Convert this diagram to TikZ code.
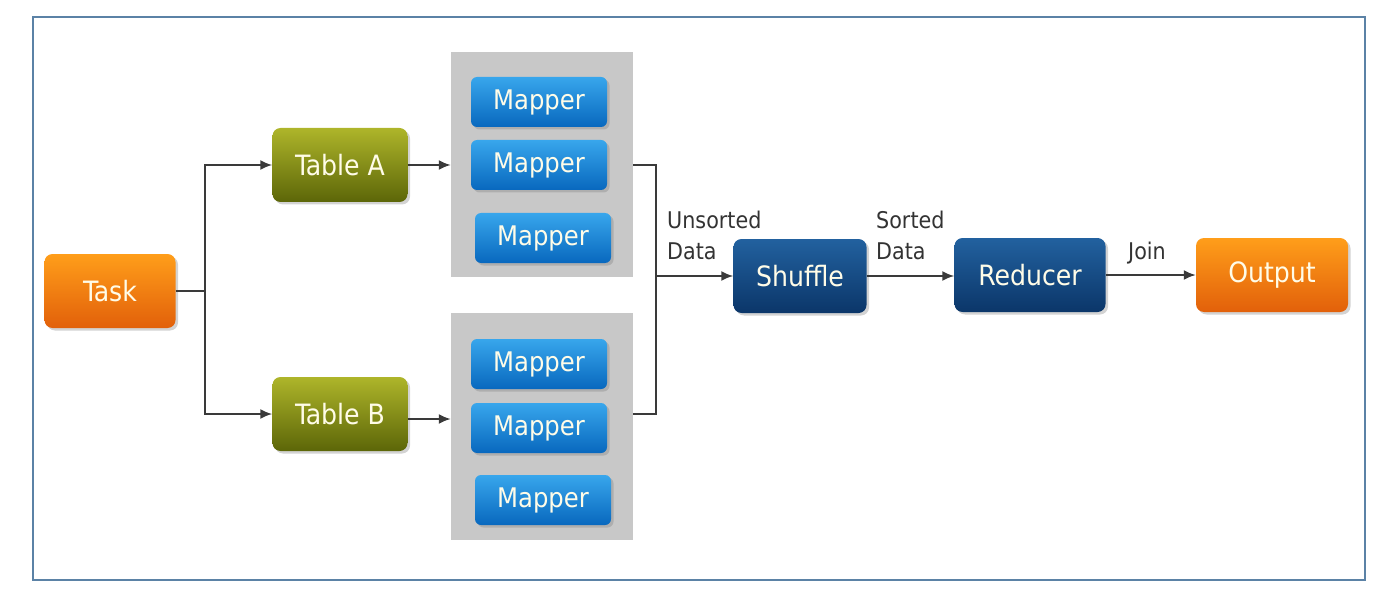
\documentclass[tikz,border=0pt]{standalone}
\usepackage{fontspec}
\setmainfont{DejaVu Sans Condensed}
\usetikzlibrary{positioning, shadows, arrows.meta}

\definecolor{frameblue}{HTML}{5B82A6}
\definecolor{linegray}{HTML}{3A3A3A}
\definecolor{labelgray}{HTML}{333333}
\definecolor{boxtext}{HTML}{FFFCE8}
\definecolor{panelgray}{HTML}{C8C8C8}
\definecolor{orangetop}{HTML}{FF9E1A}
\definecolor{orangebot}{HTML}{E2600A}
\definecolor{olivetop}{HTML}{AEB52A}
\definecolor{olivebot}{HTML}{5C6608}
\definecolor{bluetop}{HTML}{38A6EC}
\definecolor{bluebot}{HTML}{0868BE}
\definecolor{navytop}{HTML}{22619F}
\definecolor{navybot}{HTML}{0B3669}

\tikzset{
  box/.style={rectangle, rounded corners=8pt, text=boxtext,
    font=\fontsize{28}{32}\selectfont,
    drop shadow={shadow xshift=2.5pt, shadow yshift=-2.5pt, opacity=0.35}},
  taskbox/.style={box, top color=orangetop, bottom color=orangebot,
    minimum width=131pt, minimum height=74pt},
  tablebox/.style={box, top color=olivetop, bottom color=olivebot,
    minimum width=135pt, minimum height=74pt},
  mapperbox/.style={box, top color=bluetop, bottom color=bluebot,
    rounded corners=6pt, minimum width=136pt, minimum height=50pt,
    font=\fontsize{27}{30}\selectfont},
  stagebox/.style={box, top color=navytop, bottom color=navybot,
    minimum height=74pt},
  panel/.style={rectangle, fill=panelgray, minimum width=182pt},
  link/.style={draw=linegray, line width=2pt, -{Latex[length=12pt, width=10pt]}},
  plainlink/.style={draw=linegray, line width=2pt},
  lbl/.style={text=labelgray, font=\fontsize{23}{31}\selectfont, inner sep=0pt, align=left}
}

\begin{document}
\begin{tikzpicture}[x=1pt, y=-1pt]
\useasboundingbox (0,0) rectangle (1381,596);
\draw[frameblue, line width=1.8pt] (33,17) rectangle (1365,580);

% gray mapper panels
\node[panel, minimum height=225pt] (panelA) at (542,164.5) {};
\node[panel, minimum height=227pt] (panelB) at (542,426.5) {};

\node[taskbox] (task) at (110,291) {Task};
\node[tablebox] (tableA) at (340,165) {Table A};
\node[tablebox] (tableB) at (340,414) {Table B};

\node[mapperbox] (mapA1) at (539,102) {Mapper};
\node[mapperbox] (mapA2) at (539,165) {Mapper};
\node[mapperbox] (mapA3) at (543,238) {Mapper};
\node[mapperbox] (mapB1) at (539,364) {Mapper};
\node[mapperbox] (mapB2) at (539,428) {Mapper};
\node[mapperbox] (mapB3) at (543,500) {Mapper};

\node[stagebox, minimum width=133pt] (shuffle) at (800,276) {Shuffle};
\node[stagebox, minimum width=151pt] (reducer) at (1030,275) {Reducer};
\node[taskbox, minimum width=152pt] (output) at (1272,275) {Output};

\coordinate (split) at (205,291);
\coordinate (merge) at (656,276);

% connectors
\draw[plainlink] (task.east) -- (split);
\draw[link] (split) |- (tableA.west);
\draw[link] (split) |- (tableB.west);
\draw[link] (tableA.east) -- (tableA.east -| panelA.west);
\draw[link] ([yshift=-5pt]tableB.east) -- ([yshift=-5pt]tableB.east -| panelB.west);
\draw[plainlink] (mapA2 -| panelA.east) -| (merge);
\draw[plainlink] (mapB2.east -| panelB.east) ++(0,-14) -| (merge);
\draw[link] (merge) -- (shuffle.west);
\draw[link] (shuffle.east) -- (shuffle.east -| reducer.west);
\draw[link] (reducer.east) -- (reducer.east -| output.west);

\node[lbl, anchor=north west] (unsorted) at (667,211) {Unsorted\\Data};
\node[lbl, anchor=north west] (sorted) at (876,211) {Sorted\\Data};
\node[lbl, anchor=north west] (join) at (1128,242) {Join};
\end{tikzpicture}
\end{document}
